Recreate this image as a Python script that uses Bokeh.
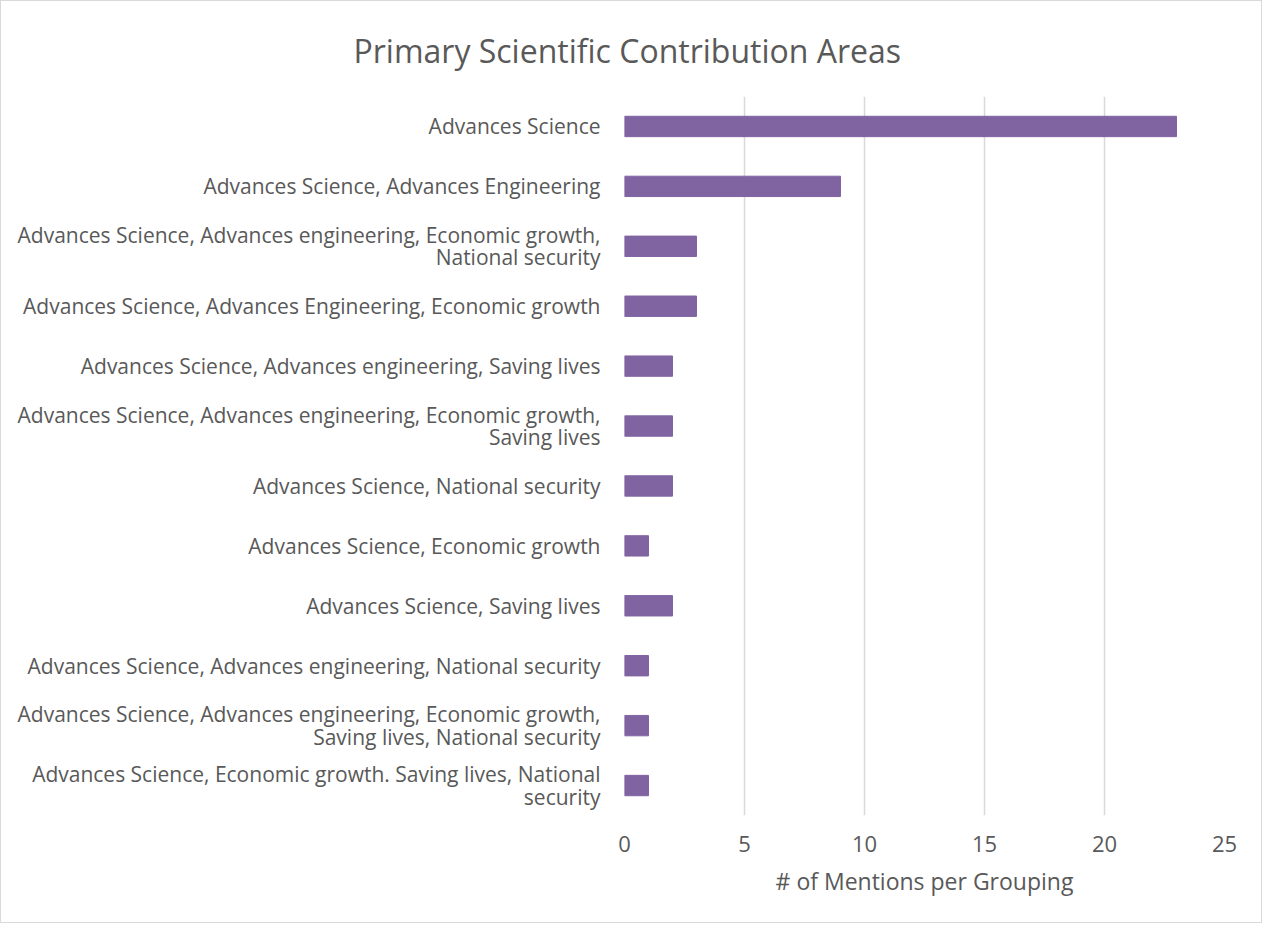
from bokeh.plotting import figure
from bokeh.models import FactorRange, Range1d, Title, FixedTicker
from bokeh.embed import file_html
from bokeh.resources import INLINE

categories = [
    "Advances Science",
    "Advances Science, Advances Engineering",
    "Advances Science, Advances engineering, Economic growth,\nNational security",
    "Advances Science, Advances Engineering, Economic growth",
    "Advances Science, Advances engineering, Saving lives",
    "Advances Science, Advances engineering, Economic growth,\nSaving lives",
    "Advances Science, National security",
    "Advances Science, Economic growth",
    "Advances Science, Saving lives",
    "Advances Science, Advances engineering, National security",
    "Advances Science, Advances engineering, Economic growth,\nSaving lives, National security",
    "Advances Science, Economic growth. Saving lives, National\nsecurity",
]
mentions = [23, 9, 3, 3, 2, 2, 2, 1, 2, 1, 1, 1]
x_ticks = [0, 5, 10, 15, 20, 25]

FONT = "Open Sans"
GREY = "#595959"

p = figure(
    width=1262, height=923,
    y_range=FactorRange(factors=categories[::-1], range_padding=0),
    x_range=Range1d(0, 25),
    output_backend="svg", toolbar_location=None,
    min_border_left=623, min_border_right=39, min_border_top=95, min_border_bottom=109,
)
p.styles = {"border": "1px solid #d9d9d9"}
p.outline_line_color = None

p.hbar(y=categories, right=mentions, height=0.34, color="#8064A2")

t = Title(text="Primary Scientific Contribution Areas", align="left", offset=-271, standoff=48,
          vertical_align="middle",
          text_font=FONT, text_font_size="32px", text_color=GREY, text_font_style="normal")
p.add_layout(t, "above")

p.xaxis.ticker = FixedTicker(ticks=x_ticks)
p.xaxis.axis_label = "# of Mentions per Grouping"
p.xaxis.axis_label_text_font = FONT
p.xaxis.axis_label_text_font_size = "23px"
p.xaxis.axis_label_text_font_style = "normal"
p.xaxis.axis_label_text_color = GREY
p.xaxis.axis_label_standoff = 10
p.xaxis.major_label_text_font = FONT
p.xaxis.major_label_text_font_size = "22px"
p.xaxis.major_label_text_color = GREY
p.xaxis.major_label_standoff = 14
p.xaxis.axis_line_color = None
p.xaxis.major_tick_line_color = None
p.xaxis.minor_tick_line_color = None

p.yaxis.major_label_text_font = FONT
p.yaxis.major_label_text_font_size = "21px"
p.yaxis.major_label_text_line_height = 0.8
p.yaxis.major_label_text_color = GREY
p.yaxis.major_label_standoff = 18
p.yaxis.axis_line_color = None
p.yaxis.major_tick_line_color = None

p.xgrid.grid_line_color = "#d9d9d9"
p.xgrid.grid_line_width = 1.5
p.ygrid.grid_line_color = None

open("out.html", "w").write(file_html(p, INLINE))
